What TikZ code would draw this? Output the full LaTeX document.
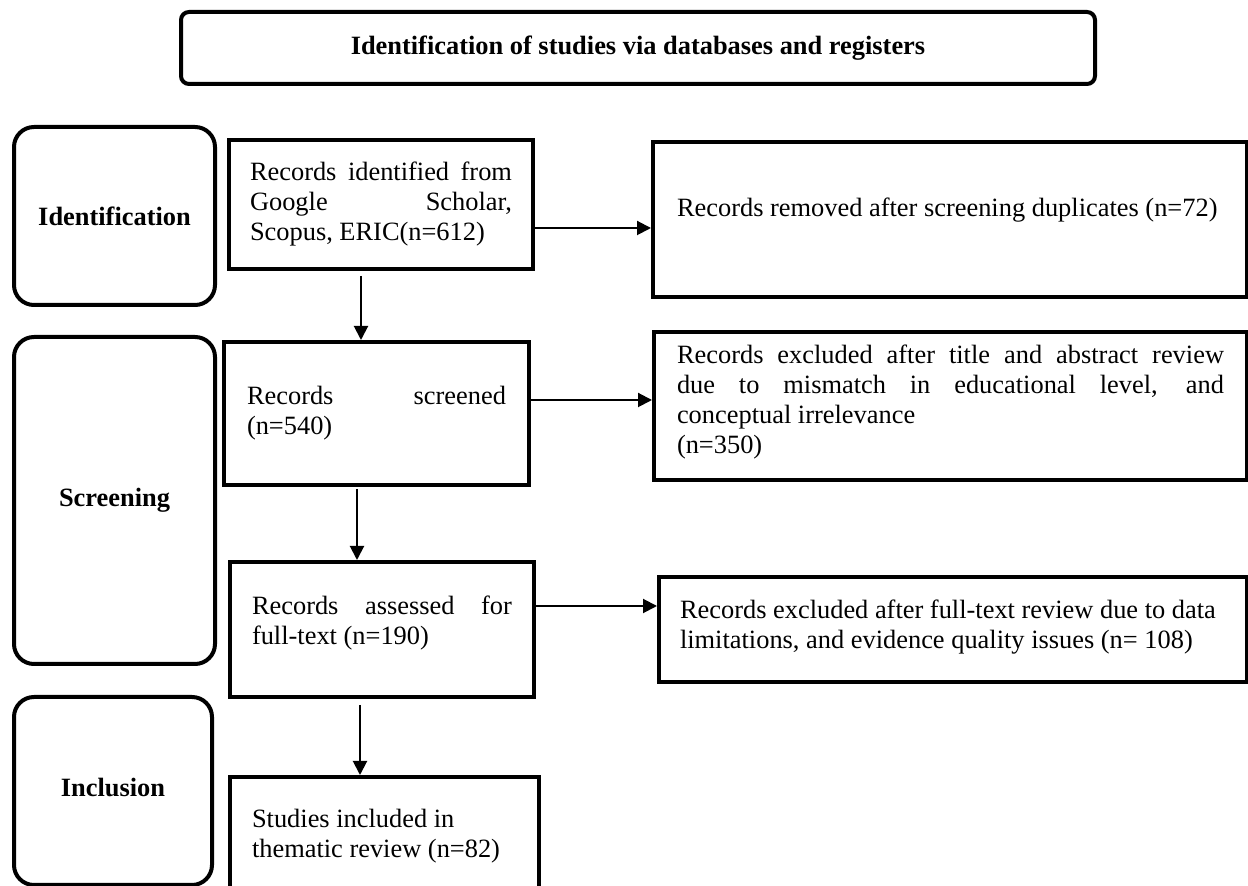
\documentclass[tikz,border=0pt]{standalone}
\usepackage{fontspec}
\setmainfont{Liberation Serif}
\usetikzlibrary{arrows.meta}
\newcommand{\tbox}[4]{\parbox[c][#2][#3]{#1}{#4}}
\begin{document}
\begin{tikzpicture}[x=0.5pt,y=-0.5pt,
  lab/.style={draw, line width=2pt, rounded corners=10pt, anchor=north west, inner sep=0pt, font=\fontsize{13.2}{15}\selectfont\bfseries},
  box/.style={draw, line width=2pt, anchor=north west, inner ysep=0pt, font=\fontsize{13.2}{15}\selectfont},
  arr/.style={line width=1pt, -{Triangle[length=7pt,width=7pt]}}]
\useasboundingbox (0,0) rectangle (1248,886);
\clip (0,0) rectangle (1248,886);
% title
\node[lab, rounded corners=4pt, minimum width=457pt, minimum height=36pt] (title) at (179,10) {Identification of studies via databases and registers};
% phase labels
\node[lab, minimum width=100.5pt, minimum height=89pt] (idl) at (12,125) {Identification};
\node[lab, minimum width=100.5pt, minimum height=163.5pt] (scl) at (12,335) {Screening};
\node[lab, minimum width=99pt, minimum height=94pt] (inl) at (12,695) {\raisebox{4pt}{Inclusion}};
% main boxes
\node[box, inner xsep=10.5pt] (ident) at (227,138) {\tbox{131pt}{64.5pt}{c}{Records identified from\linebreak Google Scholar,\linebreak Scopus, ERIC(n=612)}};
\node[box, inner xsep=12pt] (removed) at (651,140) {\tbox{273pt}{77.5pt}{t}{\vspace*{28pt}Records removed after screening duplicates (n=72)}};
\node[box, inner xsep=11.5pt] (screened) at (222,340) {\tbox{129.5pt}{71.5pt}{c}{Records screened\linebreak (n=540)}};
\node[box, inner xsep=11.5pt] (excl1) at (652,330) {\tbox{273.5pt}{74pt}{c}{Records excluded after title and abstract review\linebreak due to mismatch in educational level, and\linebreak conceptual irrelevance\\(n=350)\vspace{4pt}}};
\node[box, inner xsep=11pt] (assessed) at (228,560) {\tbox{130pt}{67.5pt}{c}{Records assessed for\linebreak full-text (n=190)\vspace{6pt}}};
\node[box, inner xsep=10.5pt] (excl2) at (657,575) {\tbox{273pt}{52.5pt}{c}{\raggedright Records excluded after full-text review due to data\\limitations, and evidence quality issues (n= 108)\vspace{2pt}}};
\node[box, inner xsep=11pt] (studies) at (228,775) {\tbox{132.5pt}{80pt}{t}{\raggedright\vspace*{16pt}Studies included in\\thematic review (n=82)}};
% connectors
\draw[arr] (ident.east |- 0,228) -- (removed.west |- 0,228);
\draw[arr] (screened.east |- 0,400) -- (excl1.west |- 0,400);
\draw[arr] (assessed.east |- 0,606) -- (excl2.west |- 0,606);
\draw[arr, shorten <=2.5pt] (ident.south -| 361,0) -- (screened.north -| 361,0);
\draw[arr, shorten <=1pt] (screened.south -| 357,0) -- (assessed.north -| 357,0);
\draw[arr, shorten <=3pt] (assessed.south -| 360,0) -- (studies.north -| 360,0);
\end{tikzpicture}
\end{document}
